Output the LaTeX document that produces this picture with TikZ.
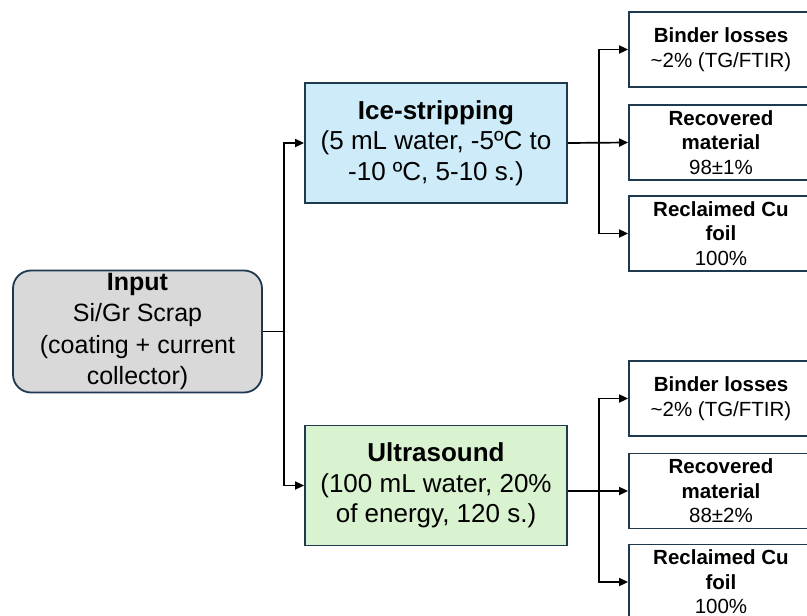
\documentclass[tikz,border=0pt]{standalone}
\usepackage{fontspec}
\setmainfont{Liberation Sans}
\usetikzlibrary{arrows.meta,calc}
\definecolor{edgeblue}{HTML}{1F3A4F}
\definecolor{inputgray}{HTML}{D9D9D9}
\definecolor{iceblue}{HTML}{CDEBF8}
\definecolor{usgreen}{HTML}{D9F2D0}
\tikzset{
  box/.style={draw=edgeblue, line width=1.8pt, align=center, inner sep=0pt},
  procbox/.style={box, minimum width=262pt, minimum height=120pt,
    font=\fontsize{26}{30.5}\selectfont},
  outbox/.style={box, fill=white, minimum width=184pt, minimum height=75pt,
    font=\fontsize{20.5}{24.5}\selectfont},
  link/.style={line width=1.7pt, -{Triangle[length=9pt,width=8pt]}},
  plain/.style={line width=1.7pt}
}
\begin{document}
\begin{tikzpicture}[x=1pt,y=-1pt]
\useasboundingbox (0,0) rectangle (807,616);

% input
\node[box, fill=inputgray, rounded corners=18pt, minimum width=249pt,
      minimum height=122pt, font=\fontsize{25}{31.5}\selectfont]
  (input) at (137.5,331.5) {\textbf{Input}\\Si/Gr Scrap\\(coating + current\\collector)};

% two processes
\node[procbox, fill=iceblue] (ice) at (436,143)
  {\textbf{Ice-stripping}\\(5 mL water, -5ºC to\\-10 ºC, 5-10 s.)};
\node[procbox, fill=usgreen] (us) at (436,485.5)
  {\textbf{Ultrasound}\\(100 mL water, 20\%\\of energy, 120 s.)};

% outcomes of ice-stripping
\node[outbox] (bl1) at (721,49.5) {\textbf{Binder losses}\\\textasciitilde2\% (TG/FTIR)};
\node[outbox] (rm1) at (721,142.5) {\textbf{Recovered}\\\textbf{material}\\98±1\%};
\node[outbox] (rc1) at (721,233.5) {\textbf{Reclaimed Cu}\\\textbf{foil}\\100\%};

% outcomes of ultrasound
\node[outbox] (bl2) at (721,398.5) {\textbf{Binder losses}\\\textasciitilde2\% (TG/FTIR)};
\node[outbox] (rm2) at (721,491) {\textbf{Recovered}\\\textbf{material}\\88±2\%};
\node[outbox] (rc2) at (721,582) {\textbf{Reclaimed Cu}\\\textbf{foil}\\100\%};

% splitting from the input
\coordinate (j0) at ($(input.east)+(21,0)$);
\draw[plain] (input.east) -- (j0);
\draw[link] (j0) |- (ice.west);
\draw[link] (j0) |- (us.west);

% fan-out after ice-stripping
\coordinate (j1) at ($(ice.east)+(31,0)$);
\draw[link] (ice.east) -- (rm1.west);
\draw[link] (j1) |- (bl1.west);
\draw[link] (j1) |- (rc1.west);

% fan-out after ultrasound
\coordinate (j2) at ($(rm2.west -| us.east)+(31,0)$);
\draw[link] (rm2.west -| us.east) -- (rm2.west);
\draw[link] (j2) |- (bl2.west);
\draw[link] (j2) |- (rc2.west);
\end{tikzpicture}
\end{document}
